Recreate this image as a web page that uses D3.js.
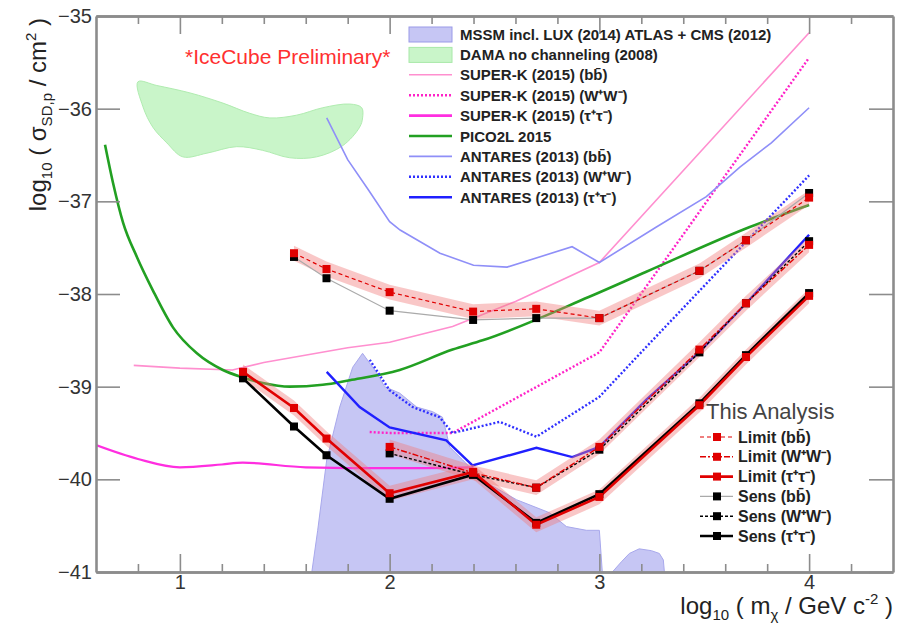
<!DOCTYPE html>
<html>
<head>
<meta charset="utf-8">
<script src="https://cdn.jsdelivr.net/npm/d3@7"></script>
<style>
  html, body { margin: 0; padding: 0; background: #fff; }
  svg { display: block; font-family: "Liberation Sans", Arial, Helvetica, sans-serif; }
</style>
</head>
<body>
<svg id="chart" width="905" height="623"></svg>
<script>
// ---- Data (log10 mass [GeV], log10 cross section [cm^2]) ----
const mssmMass  = [1.629, 1.657, 1.700, 1.762, 1.824, 1.871, 1.938, 1.976, 2.048, 2.129, 2.205, 2.252, 2.271, 2.286, 2.348, 2.443, 2.605, 2.762, 2.843, 2.938, 3.000, 3.014];
const mssmSigma = [-41.0, -40.55, -39.79, -39.22, -38.79, -38.64, -38.85, -39.00, -39.07, -39.22, -39.27, -39.33, -39.50, -39.65, -39.79, -40.01, -40.22, -40.36, -40.51, -40.55, -40.55, -41.0];
const mssm2Mass  = [3.062, 3.105, 3.143, 3.190, 3.248, 3.286, 3.305, 3.310];
const mssm2Sigma = [-41.0, -40.89, -40.80, -40.75, -40.77, -40.80, -40.87, -41.0];

const damaMass  = [0.800, 0.890, 1.048, 1.205, 1.333, 1.429, 1.557, 1.681, 1.810, 1.867, 1.871, 1.857, 1.776, 1.652, 1.524, 1.395, 1.271, 1.129, 1.014, 0.938, 0.871, 0.824];
const damaSigma = [-35.71, -35.75, -35.83, -35.94, -36.05, -36.10, -36.07, -35.99, -35.95, -35.99, -36.10, -36.20, -36.40, -36.52, -36.53, -36.45, -36.41, -36.48, -36.52, -36.37, -36.20, -35.98];

const skBBMass  = [0.78, 1.0, 1.25, 1.4, 1.8, 2.0, 2.3, 2.6, 3.0, 4.0];
const skBBSigma = [-38.77, -38.80, -38.82, -38.74, -38.58, -38.52, -38.35, -38.08, -37.66, -35.18];
const skWWMass  = [1.905, 2.0, 2.3, 3.0, 4.0];
const skWWSigma = [-39.49, -39.50, -39.50, -38.63, -35.45];
const skTTMass  = [0.6, 0.8, 1.0, 1.2, 1.3, 1.6, 2.0, 2.4];
const skTTSigma = [-39.63, -39.78, -39.87, -39.84, -39.82, -39.87, -39.88, -39.87];

const picoMass  = [0.643, 0.681, 0.729, 0.795, 0.871, 0.967, 1.081, 1.205, 1.300, 1.395, 1.524, 1.681, 1.810, 2.048, 2.300, 2.443, 2.952, 3.224, 3.714, 4.0];
const picoSigma = [-36.39, -36.80, -37.23, -37.60, -37.96, -38.36, -38.64, -38.82, -38.90, -38.96, -39.00, -38.98, -38.93, -38.82, -38.60, -38.50, -38.03, -37.76, -37.28, -37.04];

const antBBMass  = [1.7, 1.8, 1.9, 2.0, 2.05, 2.24, 2.4, 2.56, 2.87, 3.0, 3.27, 3.51, 3.67, 3.82, 4.0];
const antBBSigma = [-36.10, -36.55, -36.88, -37.22, -37.31, -37.56, -37.69, -37.71, -37.49, -37.66, -37.28, -36.95, -36.63, -36.37, -35.99];
const antWWMass  = [1.905, 2.0, 2.11, 2.238, 2.3, 2.524, 2.7, 3.0, 3.224, 4.0];
const antWWSigma = [-38.71, -39.04, -39.22, -39.33, -39.50, -39.38, -39.54, -39.11, -38.57, -36.72];
const antTTMass  = [1.7, 1.857, 2.0, 2.27, 2.395, 2.7, 2.871, 3.0, 3.224, 3.48, 3.7, 4.0];
const antTTSigma = [-38.84, -39.22, -39.44, -39.58, -39.85, -39.66, -39.76, -39.65, -39.14, -38.62, -38.10, -37.36];

// This analysis: limits and sensitivities
const massBB  = [1.544, 1.699, 2.0, 2.398, 2.699, 3.0, 3.477, 3.699, 4.0];
const limitBB = [-37.56, -37.73, -37.98, -38.19, -38.16, -38.26, -37.75, -37.42, -36.96];
const sensBB  = [-37.60, -37.83, -38.18, -38.28, -38.26, -38.26, -37.75, -37.42, -36.91];
const massWW  = [2.0, 2.398, 2.699, 3.0, 3.477, 3.699, 4.0];
const limitWW = [-39.65, -39.93, -40.09, -39.65, -38.60, -38.10, -37.47];
const sensWW  = [-39.72, -39.95, -40.09, -39.68, -38.63, -38.10, -37.43];
const massTT  = [1.301, 1.544, 1.699, 2.0, 2.398, 2.699, 3.0, 3.477, 3.699, 4.0];
const limitTT = [-38.84, -39.23, -39.56, -40.15, -39.92, -40.49, -40.19, -39.20, -38.68, -38.02];
const sensTT  = [-38.91, -39.43, -39.74, -40.21, -39.95, -40.47, -40.16, -39.18, -38.66, -37.99];
const bandHalfWidth = 0.08;

const xMajorTicks = [1, 2, 3, 4];
const xMinorTicks = [0.8, 1.2, 1.4, 1.6, 1.8, 2.2, 2.4, 2.6, 2.8, 3.2, 3.4, 3.6, 3.8, 4.2];
const yTicks = [-35, -36, -37, -38, -39, -40, -41];

// ---- Layout ----
const svg = d3.select("#chart");
const plotLeft = 96, plotRight = 893, plotTop = 16, plotBottom = 572;
const x = d3.scaleLinear().domain([0.6, 4.4]).range([plotLeft, plotRight]);
const y = d3.scaleLinear().domain([-41, -35]).range([plotBottom, plotTop]);

const zip = (xs, ys) => xs.map((v, i) => [v, ys[i]]);
const line = d3.line().x(d => x(d[0])).y(d => y(d[1]));
const smooth = d3.line().x(d => x(d[0])).y(d => y(d[1])).curve(d3.curveMonotoneX);

svg.append("defs").append("clipPath").attr("id", "plotclip")
  .append("rect").attr("x", plotLeft).attr("y", plotTop)
  .attr("width", plotRight - plotLeft).attr("height", plotBottom - plotTop);
const plot = svg.append("g").attr("clip-path", "url(#plotclip)");

// Filled regions
plot.append("path").datum(zip(mssmMass, mssmSigma))
  .attr("d", d3.line().x(d => x(d[0])).y(d => y(d[1])).curve(d3.curveLinearClosed))
  .attr("fill", "#c6c6f4").attr("stroke", "#a8a8ec").attr("stroke-width", 1);
plot.append("path").datum(zip(mssm2Mass, mssm2Sigma))
  .attr("d", d3.line().x(d => x(d[0])).y(d => y(d[1])).curve(d3.curveLinearClosed))
  .attr("fill", "#c6c6f4").attr("stroke", "#a8a8ec").attr("stroke-width", 1);
plot.append("path").datum(zip(damaMass, damaSigma))
  .attr("d", d3.line().x(d => x(d[0])).y(d => y(d[1])).curve(d3.curveCatmullRomClosed))
  .attr("fill", "#c9f5c9").attr("stroke", "#b0ecb0").attr("stroke-width", 1);

// Other experiments
const others = [
  { m: skBBMass,  s: skBBSigma,  color: "#ff8fcf", w: 1.6, dash: null, gen: line },
  { m: skWWMass,  s: skWWSigma,  color: "#ff22c8", w: 2.4, dash: "2,2", gen: line },
  { m: skTTMass,  s: skTTSigma,  color: "#ff2ee0", w: 2.2, dash: null, gen: smooth },
  { m: picoMass,  s: picoSigma,  color: "#22a022", w: 2.6, dash: null, gen: smooth },
  { m: antBBMass, s: antBBSigma, color: "#8f8ff8", w: 1.6, dash: null, gen: line },
  { m: antWWMass, s: antWWSigma, color: "#3030ff", w: 2.4, dash: "2,2", gen: line },
  { m: antTTMass, s: antTTSigma, color: "#2020ff", w: 2.4, dash: null, gen: line }
];
others.forEach(o => {
  plot.append("path").datum(zip(o.m, o.s)).attr("d", o.gen)
    .attr("fill", "none").attr("stroke", o.color).attr("stroke-width", o.w)
    .attr("stroke-dasharray", o.dash);
});

// Bands around the limits
const band = d3.area().x(d => x(d[0])).y0(d => y(d[1] - bandHalfWidth)).y1(d => y(d[1] + bandHalfWidth));
[[massBB, limitBB], [massWW, limitWW], [massTT, limitTT]].forEach(([m, l]) => {
  plot.append("path").datum(zip(m, l)).attr("d", band)
    .attr("fill", "#f07a7a").attr("fill-opacity", 0.42).attr("stroke", "none");
});

const analysis = [
  { m: massBB, s: sensBB,  color: "#aaaaaa", w: 1.2, dash: null,  mark: "#000" },
  { m: massWW, s: sensWW,  color: "#000",    w: 1.4, dash: "3,2", mark: "#000" },
  { m: massTT, s: sensTT,  color: "#000",    w: 2.6, dash: null,  mark: "#000" },
  { m: massBB, s: limitBB, color: "#e00000", w: 1.2, dash: "4,3", mark: "#e00000" },
  { m: massWW, s: limitWW, color: "#e00000", w: 1.4, dash: "6,2,2,2", mark: "#e00000" },
  { m: massTT, s: limitTT, color: "#e00000", w: 2.6, dash: null,  mark: "#e00000" }
];
analysis.forEach(a => {
  plot.append("path").datum(zip(a.m, a.s)).attr("d", line)
    .attr("fill", "none").attr("stroke", a.color).attr("stroke-width", a.w)
    .attr("stroke-dasharray", a.dash);
});
analysis.forEach(a => {
  plot.selectAll(null).data(zip(a.m, a.s)).join("rect")
    .attr("x", d => x(d[0]) - 4).attr("y", d => y(d[1]) - 4)
    .attr("width", 8).attr("height", 8).attr("fill", a.mark);
});

// ---- Axes (ticks drawn inward on all four sides) ----
const axisColor = "#8c8c8c";
function styleAxis(g) {
  g.select(".domain").attr("stroke", axisColor).attr("stroke-width", 2.6);
  g.selectAll(".tick line").attr("stroke", axisColor).attr("stroke-width", 1.6);
  g.selectAll(".tick text").attr("fill", "#333").attr("font-size", 20)
    .attr("font-family", "Liberation Sans, Arial, sans-serif");
}
svg.append("g").attr("transform", `translate(0,${plotBottom})`)
  .call(d3.axisBottom(x).tickValues(xMinorTicks).tickSize(-8).tickFormat("").tickSizeOuter(0)).call(styleAxis);
svg.append("g").attr("transform", `translate(0,${plotBottom})`)
  .call(d3.axisBottom(x).tickValues(xMajorTicks).tickSize(-18).tickPadding(3).tickFormat(d3.format("d")).tickSizeOuter(0)).call(styleAxis);
svg.append("g").attr("transform", `translate(0,${plotTop})`)
  .call(d3.axisTop(x).tickValues(xMinorTicks).tickSize(-8).tickFormat("").tickSizeOuter(0)).call(styleAxis);
svg.append("g").attr("transform", `translate(0,${plotTop})`)
  .call(d3.axisTop(x).tickValues(xMajorTicks).tickSize(-18).tickFormat("").tickSizeOuter(0)).call(styleAxis);
svg.append("g").attr("transform", `translate(${plotLeft},0)`)
  .call(d3.axisLeft(y).tickValues(yTicks).tickSize(-24).tickPadding(4).tickFormat(d3.format("d")).tickSizeOuter(0)).call(styleAxis);
svg.append("g").attr("transform", `translate(${plotRight},0)`)
  .call(d3.axisRight(y).tickValues(yTicks).tickSize(-24).tickFormat("").tickSizeOuter(0)).call(styleAxis);

// ---- Axis titles ----
const xt = svg.append("text").attr("x", plotRight).attr("y", 614).attr("text-anchor", "end")
  .attr("font-size", 24).attr("fill", "#222");
xt.append("tspan").text("log");
xt.append("tspan").attr("font-size", 15).attr("dy", 6).text("10");
xt.append("tspan").attr("dy", -6).text(" ( m");
xt.append("tspan").attr("font-size", 15).attr("dy", 6).text("χ");
xt.append("tspan").attr("dy", -6).text(" / GeV c");
xt.append("tspan").attr("font-size", 15).attr("dy", -10).text("-2");
xt.append("tspan").attr("dy", 10).text(" )");

const yt = svg.append("text").attr("transform", "translate(46,18) rotate(-90)")
  .attr("text-anchor", "end").attr("font-size", 24).attr("fill", "#222");
yt.append("tspan").text("log");
yt.append("tspan").attr("font-size", 15).attr("dy", 6).text("10");
yt.append("tspan").attr("dy", -6).text(" ( σ");
yt.append("tspan").attr("font-size", 15).attr("dy", 6).text("SD,p");
yt.append("tspan").attr("dy", -6).text(" / cm");
yt.append("tspan").attr("font-size", 15).attr("dy", -10).text("2");
yt.append("tspan").attr("dy", 10).text(" )");

svg.append("text").attr("x", 185).attr("y", 64).attr("font-size", 21).attr("fill", "#ff3030")
  .text("*IceCube Preliminary*");

// ---- Legend: other experiments ----
const legendOthers = [
  { label: "MSSM incl. LUX (2014) ATLAS + CMS (2012)", fill: "#c6c6f4", stroke: "#9a9ae8" },
  { label: "DAMA no channeling (2008)", fill: "#c9f5c9", stroke: "#a8e8a8" },
  { label: "SUPER-K (2015) (bb̄)", color: "#ff8fcf", w: 1.6 },
  { label: "SUPER-K (2015) (W⁺W⁻)", color: "#ff22c8", w: 2.6, dash: "2,2" },
  { label: "SUPER-K (2015) (τ⁺τ⁻)", color: "#ff2ee0", w: 2.6 },
  { label: "PICO2L 2015", color: "#22a022", w: 2.6 },
  { label: "ANTARES (2013) (bb̄)", color: "#8f8ff8", w: 1.6 },
  { label: "ANTARES (2013) (W⁺W⁻)", color: "#3030ff", w: 2.6, dash: "2,2" },
  { label: "ANTARES (2013) (τ⁺τ⁻)", color: "#2020ff", w: 2.6 }
];
const lg = svg.append("g");
legendOthers.forEach((e, i) => {
  const cy = 34 + i * 20.4;
  if (e.fill) {
    lg.append("rect").attr("x", 409).attr("y", cy - 7).attr("width", 43).attr("height", 15)
      .attr("fill", e.fill).attr("stroke", e.stroke).attr("stroke-width", 1);
  } else {
    lg.append("line").attr("x1", 409).attr("x2", 452).attr("y1", cy).attr("y2", cy)
      .attr("stroke", e.color).attr("stroke-width", e.w).attr("stroke-dasharray", e.dash || null);
  }
  lg.append("text").attr("x", 460).attr("y", cy + 5.5).attr("font-size", 15).attr("font-weight", "bold")
    .attr("fill", "#222").text(e.label);
});

// ---- Legend: this analysis ----
svg.append("text").attr("x", 706).attr("y", 419).attr("font-size", 22).attr("fill", "#444").text("This Analysis");
const legendAnalysis = [
  { label: "Limit (bb̄)",  color: "#e00000", w: 1.2, dash: "4,3", mark: "#e00000" },
  { label: "Limit (W⁺W⁻)", color: "#e00000", w: 1.4, dash: "6,2,2,2", mark: "#e00000" },
  { label: "Limit (τ⁺τ⁻)", color: "#e00000", w: 2.6, dash: null, mark: "#e00000" },
  { label: "Sens (bb̄)",   color: "#aaaaaa", w: 1.2, dash: null, mark: "#000" },
  { label: "Sens (W⁺W⁻)",  color: "#000", w: 1.4, dash: "3,2", mark: "#000" },
  { label: "Sens (τ⁺τ⁻)",  color: "#000", w: 2.6, dash: null, mark: "#000" }
];
legendAnalysis.forEach((e, i) => {
  const cy = 437 + i * 19.8;
  svg.append("line").attr("x1", 700).attr("x2", 733).attr("y1", cy).attr("y2", cy)
    .attr("stroke", e.color).attr("stroke-width", e.w).attr("stroke-dasharray", e.dash);
  svg.append("rect").attr("x", 713).attr("y", cy - 4).attr("width", 8).attr("height", 8).attr("fill", e.mark);
  svg.append("text").attr("x", 738).attr("y", cy + 5.5).attr("font-size", 16).attr("font-weight", "bold")
    .attr("fill", "#222").text(e.label);
});
</script>
</body>
</html>
